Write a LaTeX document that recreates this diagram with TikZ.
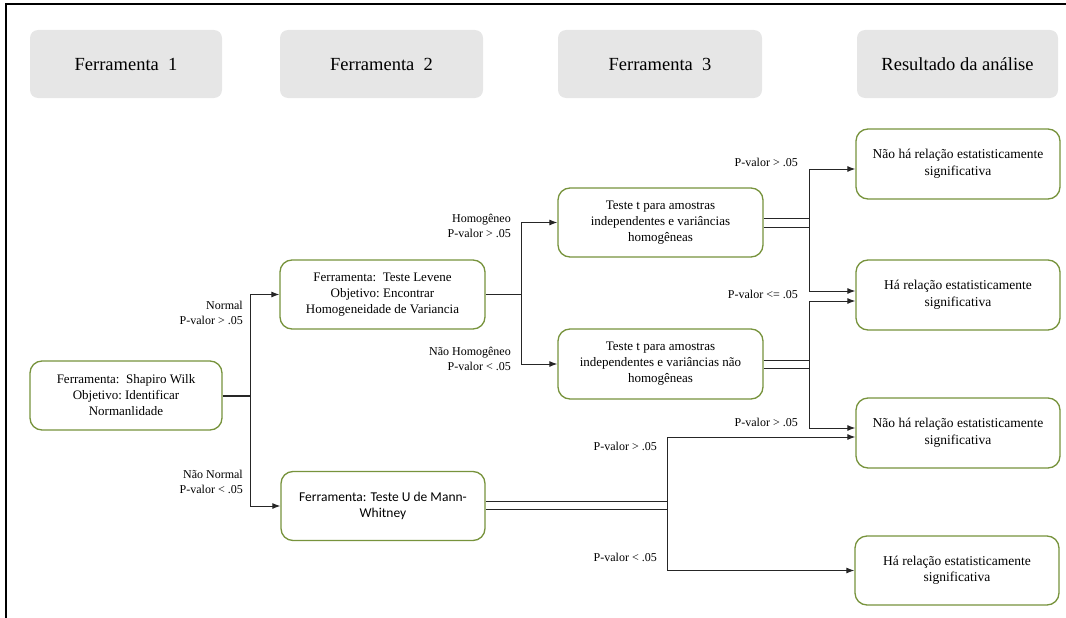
\documentclass[tikz,border=0pt]{standalone}
\usepackage{fontspec}
\setmainfont{Liberation Serif}
\newfontfamily\calib{Carlito}
\usetikzlibrary{arrows.meta}
\definecolor{hgray}{RGB}{230,230,230}
\definecolor{boxgreen}{RGB}{119,147,60}
\tikzset{
  hdr/.style={rectangle, rounded corners=8pt, fill=hgray, draw=none, minimum height=68pt, align=center, font=\fontsize{18.5}{22}\selectfont},
  box/.style={rectangle, rounded corners=12pt, draw=boxgreen, line width=1.3pt, fill=white, align=center, minimum height=69pt, minimum width=204pt, font=\fontsize{13}{16}\selectfont},
  res/.style={box, font=\fontsize{13.5}{16.5}\selectfont},
  arr/.style={-{Latex[length=8pt,width=6pt]}, line width=1pt, draw=black!85},
  ln/.style={line width=1pt, draw=black!85},
  lbl/.style={anchor=east, align=right, inner sep=0pt, font=\fontsize{12}{15}\selectfont}
}
\begin{document}
\begin{tikzpicture}[x=1pt,y=-1pt]
\useasboundingbox (0,0) rectangle (1066,618);
% frame
\draw[line width=2.5pt] (1066,4) -- (6,4) -- (6,618);
% headers
\node[hdr, minimum width=192pt] (h1) at (126,64) {Ferramenta\ \ 1};
\node[hdr, minimum width=203pt] (h2) at (381.5,64) {Ferramenta\ \ 2};
\node[hdr, minimum width=204pt] (h3) at (660,64) {Ferramenta\ \ 3};
\node[hdr, minimum width=201pt] (h4) at (957.5,64) {Resultado da análise};
% boxes
\node[box, minimum width=192pt] (sw) at (126,395.5) {Ferramenta:\ \ Shapiro Wilk\\Objetivo:\ Identificar\\Normanlidade};
\node[box, minimum width=205pt] (lev) at (382.5,294.5) {Ferramenta:\ \ Teste Levene\\Objetivo:\ Encontrar\\Homogeneidade\ de Variancia};
\node[box] (mw) at (383,506) {\calib\fontsize{13.5}{16}\selectfont Ferramenta: Teste U de Mann-\\\calib\fontsize{13.5}{16}\selectfont Whitney};
\node[box, minimum width=205pt] (t1) at (660.5,222.5) {Teste t para amostras\\independentes e variâncias\\homogêneas};
\node[box, minimum width=205pt, minimum height=70pt] (t2) at (660.5,364) {Teste t para amostras\\independentes e variâncias não\\homogêneas};
\node[res, minimum height=70pt] (r1) at (958,164) {Não há relação estatisticamente\\significativa};
\node[res, minimum height=70pt] (r2) at (958,295) {Há relação estatisticamente\\significativa};
\node[res, minimum height=70pt] (r3) at (958,433) {Não há relação estatisticamente\\significativa};
\node[res] (r4) at (957,570.5) {Há relação estatisticamente\\significativa};
% junctions
\coordinate (j1) at (250,395.5);
\coordinate (j2) at (521,294.5);
\coordinate (k1) at (809,222.5);
\coordinate (k2) at (809,364);
\coordinate (k3) at (667,506);
% connectors level 1
\draw[line width=2pt, draw=black!85] (sw.east) -- (j1);
\draw[arr] (j1) |- (lev.west);
\draw[arr] (j1) |- (mw.west);
% level 2
\draw[line width=1.5pt, draw=black!85] (lev.east) -- (j2);
\draw[arr] (j2) |- (t1.west);
\draw[arr] (j2) |- (t2.west);
% t1 double
\draw[ln] ([yshift=4.5pt]t1.east) -- ([yshift=4.5pt]k1);
\draw[ln] ([yshift=-4.5pt]t1.east) -- ([yshift=-4.5pt]k1);
\draw[arr] (k1) |- ([yshift=-5pt]r1.west);
\draw[arr] (k1) |- ([yshift=4pt]r2.west);
% t2 double
\draw[ln] ([yshift=4pt]t2.east) -- ([yshift=4pt]k2);
\draw[ln] ([yshift=-4pt]t2.east) -- ([yshift=-4pt]k2);
\draw[arr] (k2) |- ([yshift=-6pt]r2.west);
\draw[arr] (k2) |- ([yshift=5pt]r3.west);
% mw double
\draw[ln] ([yshift=5pt]mw.east) -- ([yshift=5pt]k3);
\draw[ln] ([yshift=-3pt]mw.east) -- ([yshift=-3pt]k3);
\draw[arr] (k3) |- ([yshift=-4pt]r3.west);
\draw[arr] (k3) |- (r4.west);
% labels
\node[lbl] (l1) at (243,312.5) {Normal\\P-valor > .05};
\node[lbl] (l2) at (243,481.5) {Não Normal\\P-valor < .05};
\node[lbl] (l3) at (511,225.5) {Homogêneo\\P-valor > .05};
\node[lbl] (l4) at (511,358.5) {Não Homogêneo\\P-valor < .05};
\node[lbl] (l5) at (798,162) {P-valor > .05};
\node[lbl] (l6) at (798,294) {P-valor <= .05};
\node[lbl] (l7) at (798,422) {P-valor > .05};
\node[lbl] (l8) at (657,446) {P-valor > .05};
\node[lbl] (l9) at (657,557) {P-valor < .05};
\end{tikzpicture}
\end{document}
